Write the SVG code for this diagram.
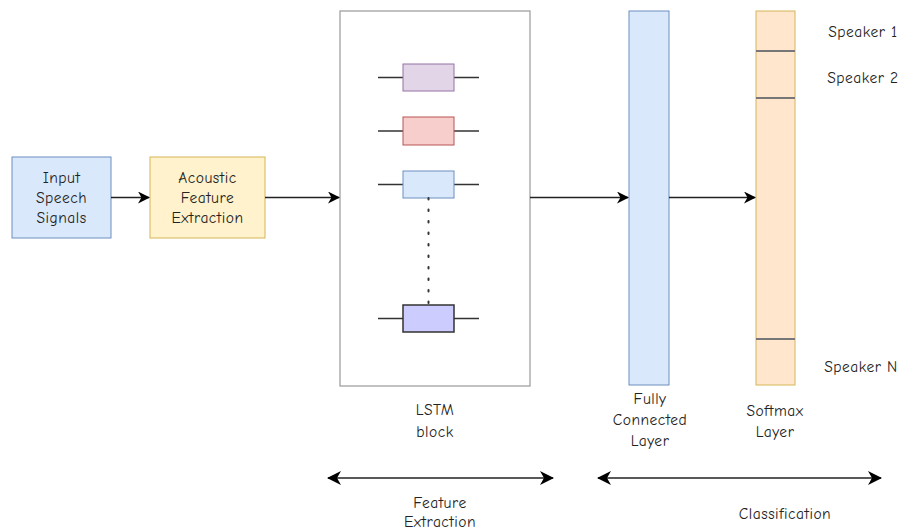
<svg xmlns="http://www.w3.org/2000/svg" width="905" height="530" viewBox="0 0 905 530">
<defs>
<marker id="ah" markerWidth="12" markerHeight="12" refX="11" refY="6" orient="auto-start-reverse" markerUnits="userSpaceOnUse"><path d="M0,0 L12,6 L0,12 L3.5,6 Z" fill="#000"/></marker>
<marker id="ah2" markerWidth="14" markerHeight="14" refX="13" refY="7" orient="auto-start-reverse" markerUnits="userSpaceOnUse"><path d="M0,0 L14,7 L0,14 L4,7 Z" fill="#000"/></marker>
<style>
text{font-family:"Comic Sans MS","Comic Neue","DejaVu Sans",sans-serif;font-size:15.5px;letter-spacing:0.5px;fill:#222;text-anchor:middle}
.c{stroke:#222;stroke-width:1.5;fill:none}
.stub{stroke:#333;stroke-width:1.5}
</style>
</defs>
<rect width="905" height="530" fill="#fff"/>
<g id="input"><rect x="12" y="157" width="99" height="81" fill="#dae8fc" stroke="#6c8ebf"/><text x="61.5" y="183">Input</text><text x="61.5" y="203">Speech</text><text x="61.5" y="223">Signals</text></g>
<g id="acoustic"><rect x="150" y="157" width="115" height="81" fill="#fff2cc" stroke="#d6b656"/><text x="207.5" y="183">Acoustic</text><text x="207.5" y="203">Feature</text><text x="207.5" y="223">Extraction</text></g>
<g id="lstm"><rect x="340" y="11" width="190" height="375" fill="#fff" stroke="#999" stroke-width="1.2"/>
<line class="stub" x1="378" y1="77.5" x2="479" y2="77.5"/><rect x="403" y="64" width="51" height="27" fill="#e1d5e7" stroke="#9673a6"/>
<line class="stub" x1="378" y1="131" x2="479" y2="131"/><rect x="403" y="117" width="51" height="28" fill="#f8cecc" stroke="#b85450"/>
<line class="stub" x1="378" y1="184.5" x2="479" y2="184.5"/><rect x="403" y="171" width="51" height="27" fill="#dae8fc" stroke="#6c8ebf"/>
<line x1="428.5" y1="198" x2="428.5" y2="305" stroke="#333" stroke-width="2" stroke-dasharray="1.5 10" stroke-linecap="round"/>
<line class="stub" x1="378" y1="318.5" x2="479" y2="318.5"/><rect x="403" y="305" width="51" height="27" fill="#ccccff" stroke="#333" stroke-width="1.5"/>
<text x="435" y="415">LSTM</text><text x="435" y="437">block</text></g>
<g id="fc"><rect x="629" y="11" width="40" height="374" fill="#dae8fc" stroke="#6c8ebf"/><text x="650" y="404">Fully</text><text x="650" y="425">Connected</text><text x="650" y="446">Layer</text></g>
<g id="softmax"><rect x="756" y="11" width="39" height="374" fill="#ffe6cc" stroke="#d6b656"/>
<line x1="756" y1="51" x2="795" y2="51" stroke="#777" stroke-width="2"/><line x1="756" y1="98" x2="795" y2="98" stroke="#777" stroke-width="2"/><line x1="756" y1="339" x2="795" y2="339" stroke="#777" stroke-width="2"/>
<text x="775" y="416">Softmax</text><text x="775" y="437">Layer</text></g>
<g id="labels"><text x="863" y="37">Speaker 1</text><text x="863" y="83">Speaker 2</text><text x="861" y="372">Speaker N</text>
<text x="440" y="508">Feature</text><text x="440" y="527">Extraction</text><text x="785" y="519">Classification</text></g>
<g id="connectors">
<line class="c" x1="111" y1="197.5" x2="149" y2="197.5" marker-end="url(#ah)"/>
<line class="c" x1="265" y1="197.5" x2="339" y2="197.5" marker-end="url(#ah)"/>
<line class="c" x1="530" y1="197.5" x2="628" y2="197.5" marker-end="url(#ah)"/>
<line class="c" x1="669" y1="197.5" x2="755" y2="197.5" marker-end="url(#ah)"/>
<line class="c" x1="328" y1="478" x2="553" y2="478" marker-start="url(#ah2)" marker-end="url(#ah2)"/>
<line class="c" x1="598" y1="478" x2="881" y2="478" marker-start="url(#ah2)" marker-end="url(#ah2)"/>
</g>
</svg>
